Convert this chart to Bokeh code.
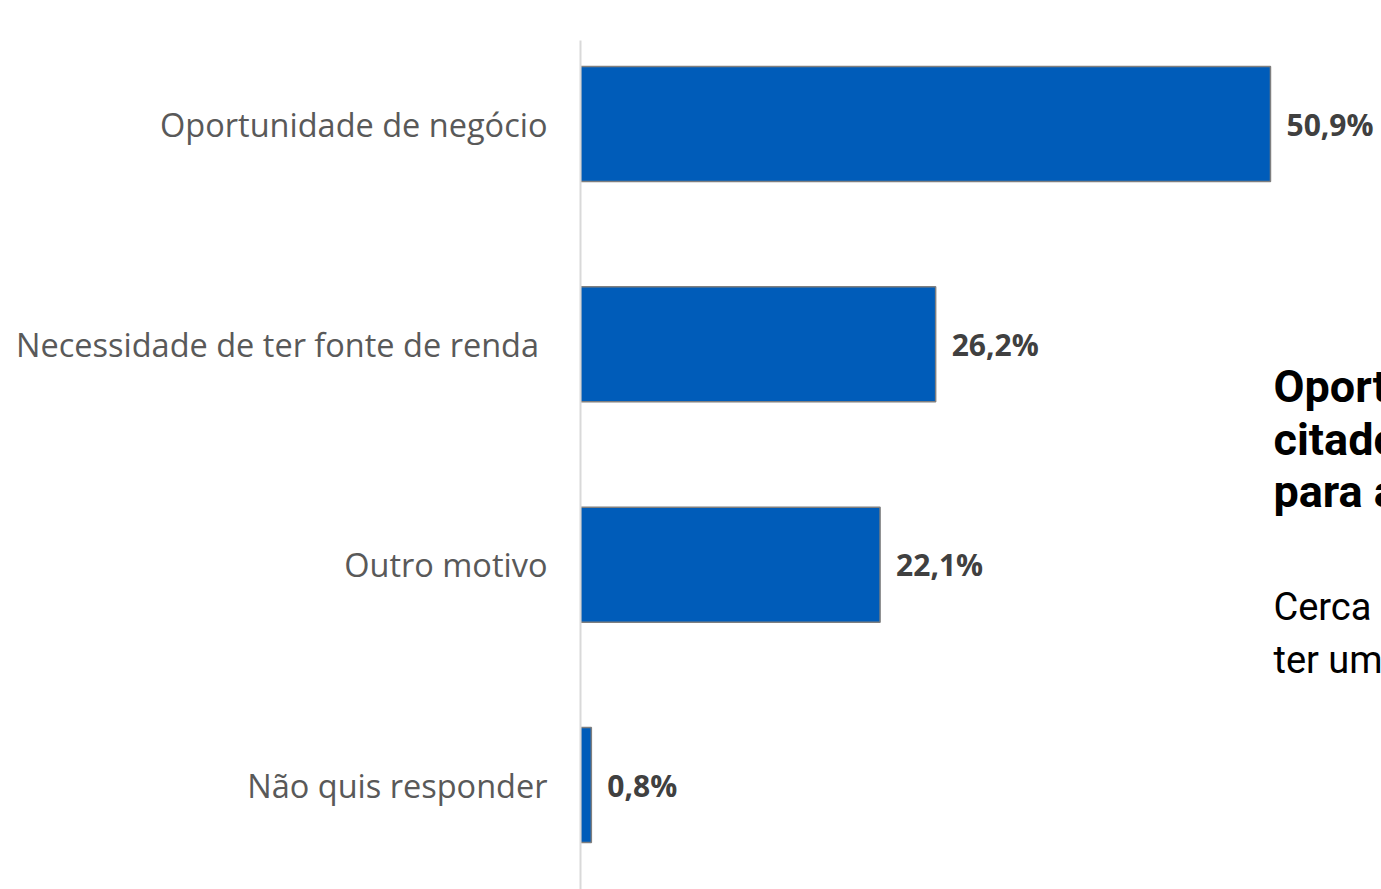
from bokeh.plotting import figure
from bokeh.models import Range1d, FixedTicker, Label, ColumnDataSource
from bokeh.core.properties import value
from bokeh.embed import file_html
from bokeh.resources import INLINE

# ---- data ----
categories = ["Oportunidade de negócio", "Necessidade de ter fonte de renda ", "Outro motivo", "Não quis responder"]
values = [50.9, 26.2, 22.1, 0.8]
value_labels = [f"{v:.1f}%".replace(".", ",") for v in values]

title_lines = ["Oportunidade de negócio é o motivo mais", "citado pelos entrevistados", "para abrir o negócio"]
body_lines = ["Cerca de metade abriu o negócio para", "ter uma fonte de renda própria"]

# positions: top category highest
ypos = [len(categories) - 1 - i for i in range(len(categories))]

src = ColumnDataSource(dict(y=ypos, v=values, lab=value_labels))

p = figure(width=1381, height=889,
           x_range=Range1d(0, 59.09), y_range=Range1d(-0.474, 3.379),
           output_backend="svg", toolbar_location=None,
           x_axis_location=None,
           min_border_left=580, min_border_right=0, min_border_top=40, min_border_bottom=0)
p.outline_line_color = None
p.xgrid.visible = False
p.ygrid.visible = False
p.background_fill_color = "white"
p.border_fill_color = "white"

p.hbar(y="y", right="v", left=0, height=0.522, source=src,
       fill_color="#005CB9", line_color="#7F7F7F", line_width=1.5)

p.text(x="v", y="y", text="lab", source=src, x_offset=16,
       text_baseline="middle", text_align="left",
       text_font=value("Open Sans"), text_font_style="bold",
       text_font_size="30px", text_color="#404040")

ax = p.yaxis[0]
ax.ticker = FixedTicker(ticks=ypos)
ax.major_label_overrides = {y: c for y, c in zip(ypos, categories)}
ax.axis_line_color = "#D9D9D9"
ax.axis_line_width = 2
ax.major_tick_line_color = None
ax.minor_tick_line_color = None
ax.major_tick_out = 0
ax.major_tick_in = 0
ax.major_label_standoff = 33
ax.major_label_text_font = "Open Sans"
ax.major_label_text_font_size = "32.5px"
ax.major_label_text_color = "#595959"

tx = 51.12
for t, y in zip(title_lines, [1.811, 1.570, 1.330]):
    p.add_layout(Label(x=tx, y=y, text=t, text_font="Roboto", text_font_style="bold",
                       text_font_size="45px", text_color="#000000", text_baseline="alphabetic"))
for t, y in zip(body_lines, [0.808, 0.567]):
    p.add_layout(Label(x=tx, y=y, text=t, text_font="Roboto",
                       text_font_size="38px", text_color="#000000", text_baseline="alphabetic"))

open("out.html", "w").write(file_html(p, INLINE))
